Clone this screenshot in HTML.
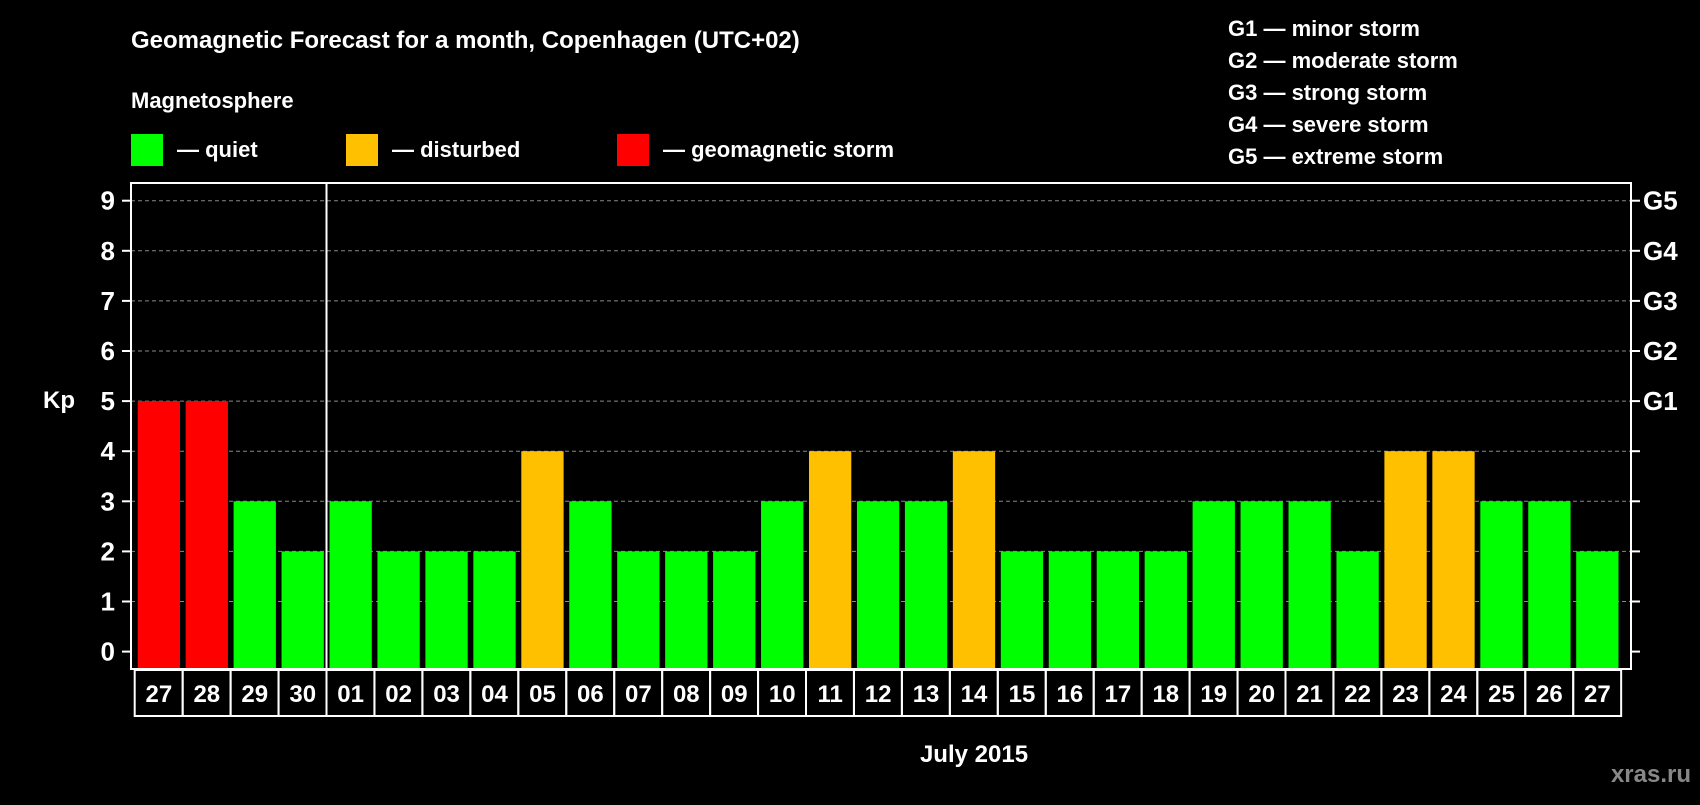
<!DOCTYPE html>
<html><head><meta charset="utf-8"><style>
body{margin:0;background:#000;width:1700px;height:800px;overflow:hidden}
svg text{font-family:"Liberation Sans",sans-serif;font-weight:bold;fill:#fff}
</style></head><body>
<svg id="c" width="1700" height="800">
<text x="131" y="48" font-size="24">Geomagnetic Forecast for a month, Copenhagen (UTC+02)</text>
<text x="131" y="108" font-size="22">Magnetosphere</text>
<rect x="131" y="134" width="32" height="32" fill="#00ff00"/>
<text x="177" y="157" font-size="22">— quiet</text>
<rect x="346" y="134" width="32" height="32" fill="#ffc000"/>
<text x="392" y="157" font-size="22">— disturbed</text>
<rect x="617" y="134" width="32" height="32" fill="#ff0000"/>
<text x="663" y="157" font-size="22">— geomagnetic storm</text>
<g font-size="22">
<text x="1228" y="36">G1 — minor storm</text>
<text x="1228" y="68">G2 — moderate storm</text>
<text x="1228" y="100">G3 — strong storm</text>
<text x="1228" y="132">G4 — severe storm</text>
<text x="1228" y="164">G5 — extreme storm</text>
</g>
<text x="43" y="408" font-size="24">Kp</text>
<text x="974" y="762" font-size="24" text-anchor="middle">July 2015</text>
<text x="1691" y="782" font-size="24" text-anchor="end" style="fill:#888">xras.ru</text>
<g id="plot"></g>
</svg>
<script>
const labels=["27","28","29","30","01","02","03","04","05","06","07","08","09","10","11","12","13","14","15","16","17","18","19","20","21","22","23","24","25","26","27"];
const kp=[5,5,3,2,3,2,2,2,4,3,2,2,2,3,4,3,3,4,2,2,2,2,3,3,3,2,4,4,3,3,2];
const yTicks=[0,1,2,3,4,5,6,7,8,9];
const gLabels=["G1","G2","G3","G4","G5"];
const gLevels=[5,6,7,8,9];
const NS="http://www.w3.org/2000/svg";
const L=131,R=1631,T=183,B=669;
const y=v=>651.6-v*50.1;
const x=i=>137.7+i*47.95;
const bw=42.3;
const g=document.getElementById('plot');
function mk(t,a){const e=document.createElementNS(NS,t);for(const k in a)e.setAttribute(k,a[k]);g.appendChild(e);return e;}
yTicks.forEach(v=>{
 if(v>0){const gl=mk('line',{x1:L,x2:R,y1:y(v),y2:y(v),stroke:'#888','stroke-dasharray':'4,3','stroke-width':1});
 
 }
 const t1=mk('line',{x1:L-9,x2:L,y1:y(v),y2:y(v),stroke:'#fff','stroke-width':2});
 
 
 const t2=mk('line',{x1:R,x2:R+9,y1:y(v),y2:y(v),stroke:'#fff','stroke-width':2});
 
 
 const tl=mk('text',{x:115,y:y(v)+9,'font-size':26,'text-anchor':'end'});tl.textContent=v;
 
 
});
gLevels.forEach((v,i)=>{const t=mk('text',{x:1643,y:y(v)+9,'font-size':26});t.textContent=gLabels[i];
 
 });
kp.forEach((v,i)=>{
 const c=v>=5?'#ff0000':v>=4?'#ffc000':'#00ff00';
 const r=mk('rect',{x:x(i),y:y(v),width:bw,height:B-y(v),fill:c});
 
 
 const bx=mk('rect',{x:x(i)-3,y:B+1,width:47.95,height:46,fill:'none',stroke:'#fff','stroke-width':2});
 
 
 const t=mk('text',{x:x(i)+bw/2,y:B+33,'font-size':24,'text-anchor':'middle'});t.textContent=labels[i];
 
 
});
const fr=mk('rect',{x:L,y:T,width:R-L,height:B-T,fill:'none',stroke:'#fff','stroke-width':2});


const dv=mk('line',{x1:x(4)-3,x2:x(4)-3,y1:T,y2:B,stroke:'#fff','stroke-width':2});


</script>
</body></html>
